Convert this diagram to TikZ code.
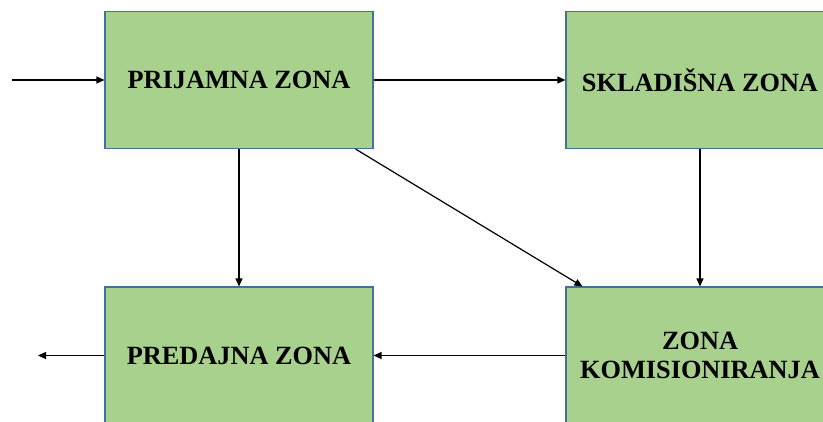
\documentclass[tikz,border=0pt]{standalone}
\usepackage{fontspec}
\setmainfont{Liberation Serif}
\usetikzlibrary{arrows.meta,calc}
\definecolor{boxfill}{HTML}{A9D18E}
\definecolor{boxline}{HTML}{41719C}
\begin{document}
\begin{tikzpicture}[x=1pt,y=-1pt,
  zonebox/.style={draw=boxline, line width=1.1pt, fill=boxfill, rectangle,
    minimum width=268pt, minimum height=137pt, inner sep=0pt, align=center,
    font=\fontsize{26.3}{28.5}\selectfont\bfseries},
  flow/.style={draw=black, line width=1.2pt, -{Triangle[length=8pt,width=7pt]}}]
\useasboundingbox (0,0) rectangle (823,421);
\clip (0,0) rectangle (823,421);
\fill[white] (0,0) rectangle (823,421);
\node[zonebox] (prij) at (239,80) {PRIJAMNA ZONA};
\node[zonebox] (sklad) at (700,80) {SKLADIŠNA ZONA};
\node[zonebox] (pred) at (239,355.5) {PREDAJNA ZONA};
\node[zonebox] (komis) at (700,355.5) {ZONA\\KOMISIONIRANJA};
\coordinate (in) at (12,80);
\coordinate (out) at (38,355.5);
\draw[flow] (in) -- (prij.west);
\draw[flow] (prij.east) -- (sklad.west);
\draw[flow] (prij.south) -- (pred.north);
\draw[flow] (sklad.south) -- (komis.north);
\draw[flow] ($(prij.south east)+(-18,0)$) -- ($(komis.north west)+(17,0)$);
\draw[flow] (komis.west) -- (pred.east);
\draw[flow] (pred.west) -- (out);
\end{tikzpicture}
\end{document}
